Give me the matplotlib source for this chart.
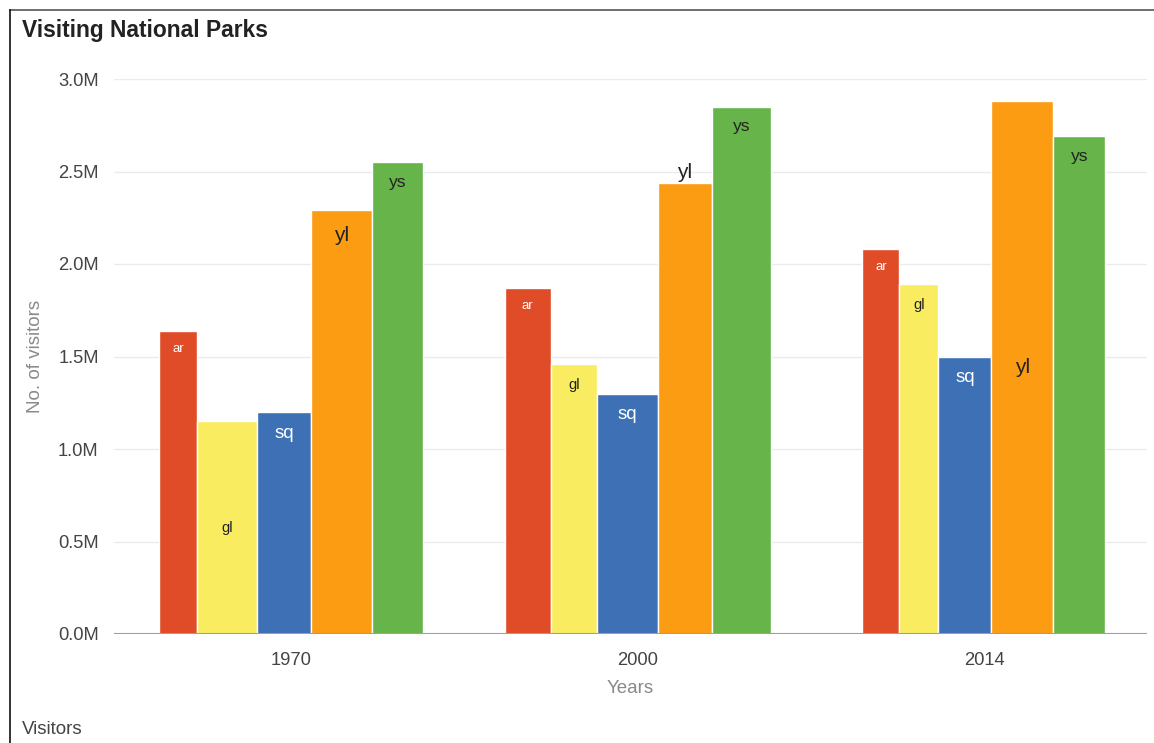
import matplotlib
matplotlib.use("Agg")
import matplotlib.pyplot as plt
from matplotlib.lines import Line2D
from matplotlib.ticker import FuncFormatter

plt.rcParams['font.family'] = ['Liberation Sans', 'DejaVu Sans']

# data (visitors, millions)
years = ['1970', '2000', '2014']
parks = ['ar', 'gl', 'sq', 'yl', 'ys']
ar_visitors = [1.64, 1.87, 2.08]
gl_visitors = [1.15, 1.46, 1.89]
sq_visitors = [1.20, 1.30, 1.50]
yl_visitors = [2.29, 2.44, 2.88]
ys_visitors = [2.55, 2.85, 2.69]
values = [ar_visitors, gl_visitors, sq_visitors, yl_visitors, ys_visitors]

# styling
colors = ['#E04C27', '#F9EC60', '#3D70B4', '#FC9C12', '#66B44A']
label_colors = ['white', '#222222', 'white', '#222222', '#222222']
label_sizes = [9.5, 10.5, 13.5, 15, 12.5]
label_drop = [18, 21, 21, 25, 20]   # px below bar top for inside labels
# where each label sits, per park and year
label_place = [['in', 'in', 'in'],
               ['mid', 'in', 'in'],
               ['in', 'in', 'in'],
               ['in', 'above', 'mid'],
               ['in', 'in', 'in']]
# bar slot widths in pixels, per year (the chart draws them unevenly)
bar_px = [[38, 60, 54, 61, 51],
          [46, 46, 61, 54, 59],
          [37, 39, 53, 62, 52]]
px_per_cat = 346.25

W, H = 1154, 743
fig = plt.figure(figsize=(W / 100, H / 100), dpi=100)
ax = fig.add_axes([114 / W, (H - 634) / H, 1033 / W, 555 / H])

for i in range(len(years)):
    widths = [w / px_per_cat for w in bar_px[i]]
    left = i - sum(widths) / 2
    for j in range(len(parks)):
        v = values[j][i]
        ax.bar(left, v, width=widths[j], align='edge', color=colors[j],
               edgecolor='white', linewidth=1, zorder=2)
        cx = left + widths[j] / 2
        place = label_place[j][i]
        if place == 'in':
            ax.annotate(parks[j], (cx, v), xytext=(0, -label_drop[j]),
                        textcoords='offset pixels', ha='center', va='center',
                        fontsize=label_sizes[j], color=label_colors[j], zorder=3)
        elif place == 'above':
            ax.annotate(parks[j], (cx, v), xytext=(0, 10),
                        textcoords='offset pixels', ha='center', va='center',
                        fontsize=label_sizes[j], color=label_colors[j], zorder=3)
        else:
            ax.text(cx, v / 2, parks[j], ha='center', va='center',
                    fontsize=label_sizes[j], color=label_colors[j], zorder=3)
        left += widths[j]

ax.set_xlim(-0.5126, 2.4708)
ax.set_ylim(0, 3.0)
ax.set_xticks(range(len(years)))
ax.set_xticklabels(years)
ax.set_yticks([0, 0.5, 1.0, 1.5, 2.0, 2.5, 3.0])
ax.yaxis.set_major_formatter(FuncFormatter(lambda y, p: '%.1fM' % y))
ax.tick_params(axis='both', length=0, labelsize=13.2, labelcolor='#444444')
ax.tick_params(axis='y', pad=11)
ax.tick_params(axis='x', pad=13)
ax.grid(axis='y', color='#EBEBEB', linewidth=1, zorder=0)
ax.set_axisbelow(True)
for s in ax.spines.values():
    s.set_visible(False)
ax.axhline(0, color='#9E9E9E', linewidth=1.5, zorder=4)

ax.set_ylabel('No. of visitors', fontsize=13.5, color='#8A8A8A', labelpad=10)
ax.set_xlabel('Years', fontsize=13.5, color='#8A8A8A', labelpad=8)

fig.text(22 / W, 1 - 31 / H, 'Visiting National Parks', fontsize=16.4,
         fontweight='bold', color='#222222', va='center', ha='left')
fig.text(22 / W, 1 - 729 / H, 'Visitors', fontsize=13.5, color='#444444',
         va='center', ha='left')

# frame lines along top and left edge
fig.add_artist(Line2D([10 / W, 1], [1 - 10 / H, 1 - 10 / H], color='#555555', linewidth=1.2))
fig.add_artist(Line2D([10 / W, 10 / W], [0, 1 - 10 / H], color='#111111', linewidth=1.2))

fig.savefig('out.png', dpi=100)
